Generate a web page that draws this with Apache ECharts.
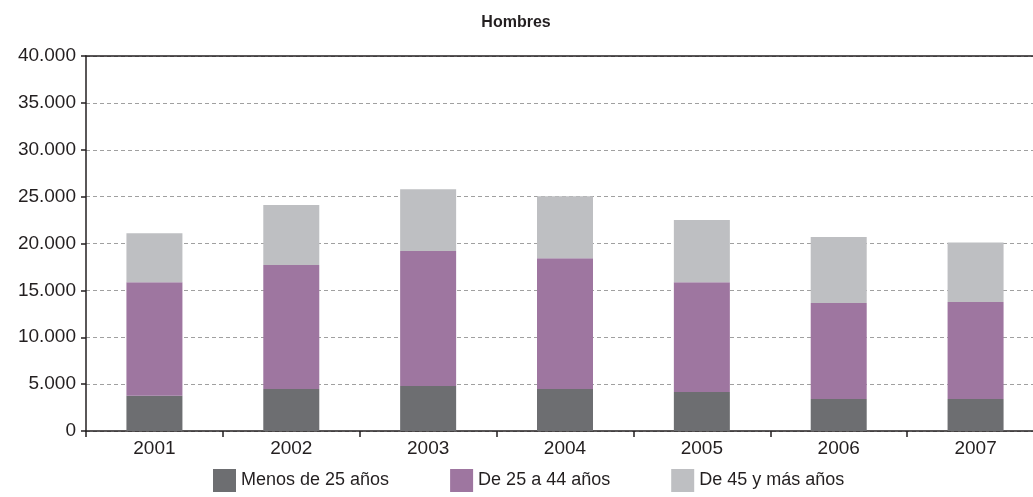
<!DOCTYPE html>
<html>
<head>
<meta charset="utf-8">
<script src="https://cdn.jsdelivr.net/npm/echarts@6/dist/echarts.min.js"></script>
<style>
  html, body { margin: 0; padding: 0; background: #fff; overflow: hidden; }
  /* plot area runs slightly past the right edge of the picture */
  #chart { width: 1044px; height: 497px; }
</style>
</head>
<body>
<div id="chart"></div>
<script>
// Hombres, by age group (stacked)
const years = ["2001", "2002", "2003", "2004", "2005", "2006", "2007"];
const menos25 = [3750, 4480, 4800, 4480, 4160, 3410, 3410];
const de25a44 = [12130, 13220, 14400, 13960, 11720, 10240, 10340];
const de45ymas = [5220, 6400, 6600, 6610, 6620, 7050, 6350];

const seriesNames = ["Menos de 25 años", "De 25 a 44 años", "De 45 y más años"];
const seriesColors = ["#6d6e71", "#9e76a0", "#bebfc2"];

const FONT = "'Liberation Sans', Arial, sans-serif";

function fmtThousands(v) {
  return String(v).replace(/\B(?=(\d{3})+(?!\d))/g, ".");
}

const chart = echarts.init(document.getElementById("chart"));

const option = {
  animation: false,
  title: {
    text: "Hombres",
    left: 511,
    textAlign: "center",
    top: 10,
    textStyle: { fontFamily: FONT, fontSize: 16, fontWeight: "bold", color: "#231f20" },
  },
  legend: {
    left: 208,
    top: 464,
    icon: "rect",
    itemWidth: 23,
    itemHeight: 23,
    itemGap: 61,
    textStyle: { fontFamily: FONT, fontSize: 18, color: "#231f20" },
    data: seriesNames,
  },
  grid: { left: 86, right: 0, top: 56, bottom: 66 },
  xAxis: [
    {
      type: "category",
      data: years,
      axisLine: { lineStyle: { color: "#231f20", width: 1.5 } },
      axisTick: { show: true, length: 6, lineStyle: { color: "#231f20", width: 1.5 } },
      axisLabel: { fontFamily: FONT, fontSize: 19, color: "#231f20", margin: 8 },
    },
    {
      type: "category",
      position: "top",
      data: years,
      axisLine: { lineStyle: { color: "#231f20", width: 1.5 } },
      axisTick: { show: false },
      axisLabel: { show: false },
    },
  ],
  yAxis: {
    type: "value",
    min: 0,
    max: 40000,
    interval: 5000,
    axisLine: { show: true, lineStyle: { color: "#231f20", width: 1.5 } },
    axisTick: { show: true, length: 5, lineStyle: { color: "#231f20", width: 1.5 } },
    axisLabel: {
      fontFamily: FONT,
      fontSize: 19,
      color: "#231f20",
      margin: 10,
      formatter: fmtThousands,
    },
    splitLine: { lineStyle: { color: "#a0a0a0", width: 1, type: [4, 3] } },
  },
  series: [menos25, de25a44, de45ymas].map((data, i) => ({
    name: seriesNames[i],
    type: "bar",
    stack: "total",
    barWidth: 56,
    itemStyle: { color: seriesColors[i] },
    data: data,
  })),
};

chart.setOption(option);
</script>
</body>
</html>
